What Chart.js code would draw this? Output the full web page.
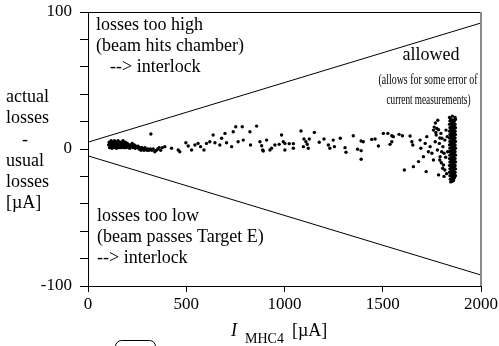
<!DOCTYPE html>
<html>
<head>
<meta charset="utf-8">
<script src="https://cdn.jsdelivr.net/npm/chart.js@4.4.1/dist/chart.umd.min.js"></script>
<style>
html,body{margin:0;padding:0;background:#fff;}
canvas{display:block;}
</style>
</head>
<body>
<canvas id="c" width="499" height="346"></canvas>
<script>
// ---- data ----
const xTickValues = [0, 500, 1000, 1500, 2000];
const yTickLabels = [-100, 0, 100];

const limitX = [0, 2000];
const upperLimitY = [5, 92];
const lowerLimitY = [-5, -92];

// measured points (I_MHC4 [µA], actual - usual losses [µA])
const pointsX = [
  105,108,110,112,115,118,120,122,125,127,130,132,135,137,140,142,145,148,150,153,
  155,158,160,163,165,168,170,173,175,178,180,183,185,188,190,193,195,198,200,205,
  208,212,215,220,225,228,232,236,240,245,250,255,260,265,270,275,280,285,290,295,
  300,305,310,318,325,332,340,348,355,362,370,378,320,
  391,425,459,467,498,510,527,544,560,573,590,603,620,637,646,671,680,697,705,731,
  739,752,764,785,790,824,827,858,875,884,889,892,909,926,934,951,973,985,994,1002,
  1002,1024,1045,1045,1084,1096,1099,1109,1116,1121,1126,1152,1177,1201,1223,1231,1248,1254,1284,1308,
  1313,1350,1372,1390,1390,1390,1401,1444,1461,1478,1503,1526,1537,1546,1546,1554,1583,1600,1610,
  1639,1648,1653,1656,1682,1690,1694,1707,1716,1721,1724,1732,1741,1750,1758,1758,1767,1772,1778,1784,
  1788,1792,1796,1801,1806,1809,1812,1816,1816,1822,1762,1768,1775,1780,1770,1784,1790,1798,1805,1812,
  1820,1825,1828,1830,1800,1790,
  1840,1847,1854,1861,1868, 1842,1849,1856,1863,1870, 1840,1847,1854,1861,1868, 1842,1849,1856,1863,1870,
  1840,1847,1854,1861,1868, 1842,1849,1856,1863,1870, 1840,1847,1854,1861,1868, 1842,1849,1856,1863,1870,
  1840,1847,1854,1861,1868, 1842,1849,1856,1863,1870, 1840,1847,1854,1861,1868, 1842,1849,1856,1863,1870,
  1840,1847,1854,1861,1868, 1842,1849,1856,1863,1870, 1840,1847,1854,1861,1868, 1842,1849,1856,1863,1870,
  1840,1847,1854,1861,1868, 1842,1849,1856,1863,1870, 1844,1851,1858,1865, 1846,1853,1860
];
const pointsY = [
  3,5,1,4,2,6,3,0.5,5,2,4,1,6,3,2,5,0.5,4,2,6,
  3,1,4,2,5,3,1,4,2,6,3,1,4,2,5,3,1,2,4,2,
  3,0.5,3,2,4,1,2,3,0.5,2,1,2,0,1,-1,1,0,-1,1,0,
  -1,0,-1,0,-1,0,-2,-1,0,1,-1,1,11,
  1.7,0.5,-0.7,-2,4.6,2.2,-0.7,2.9,4.1,1.7,-0.7,4.1,5.3,10.2,4.6,2.9,7.8,11.4,4.6,1.7,
  12.6,16.2,5.3,16.2,6.5,12.6,2.9,16.7,5.3,2.4,-0.7,-1.5,6.5,-0.7,0.5,2.9,3.4,10.2,5.3,4.1,
  -0.7,3.9,3.9,0.5,13.1,1.7,7.3,5.3,3.4,0.5,7.3,12.1,4.9,7.3,2.9,0.5,6.5,1.7,7.8,1,
  -2.4,9.7,-0.2,5.8,-1.2,-7.5,5.3,7,7.3,2.2,11.4,11.4,3.4,9.7,5.3,9,10.7,9.7,-15.3,
  9.5,5.3,2.9,-12.9,-9.2,6.5,0.5,-5.6,4.1,-16.5,9,-2,1.7,-3.1,13.8,-8,5.3,10.2,-0.7,-18.9,
  4.1,-5.6,11.4,7.8,1.7,-11.6,-3.1,6.5,-15.3,13.8,16,19,15,21,12,14,-8,-10,-14,-20,
  -6,-18,9,-2,-2,8,
  23,22,24,21,23, 20.5,21,19.5,20,21.5, 18,18.5,17.5,19,18, 15.5,16,15,16.5,15.5,
  13,13.5,12.5,14,13, 10.5,11,10,11.5,10.5, 8,8.5,7.5,9,8, 5.5,6,5,6.5,5.5,
  3,3.5,2.5,4,3, 0.5,1,0,1.5,0.5, -2,-1.5,-2.5,-1,-2, -4.5,-4,-5,-3.5,-4.5,
  -7,-6.5,-7.5,-6,-7, -9.5,-9,-10,-8.5,-9.5, -12,-11.5,-12.5,-11,-12, -14.5,-14,-15,-13.5,-14.5,
  -17,-16.5,-17.5,-16,-17, -19.5,-19,-20,-18.5,-19.5, -22,-21.5,-22.5,-21, -24,-23.5,-23
];

const yTitleLines = ["actual", "losses", "-", "usual", "losses", "[\u00B5A]"];

// ---- build ----
const scatterData = pointsX.map((x, i) => ({x: x, y: pointsY[i]}));
const upperData = limitX.map((x, i) => ({x: x, y: upperLimitY[i]}));
const lowerData = limitX.map((x, i) => ({x: x, y: lowerLimitY[i]}));

const SERIF = '"Liberation Serif", "Times New Roman", serif';

const decor = {
  id: 'decor',
  afterDraw(chart) {
    const ctx = chart.ctx;
    const a = chart.chartArea;
    ctx.save();
    // frame top and right
    ctx.strokeStyle = '#000';
    ctx.lineWidth = 1;
    ctx.beginPath();
    ctx.moveTo(a.left, a.top + 0.5);
    ctx.lineTo(a.right, a.top + 0.5);
    ctx.stroke();
    ctx.strokeStyle = '#8a8a8a';
    ctx.lineWidth = 2;
    ctx.beginPath();
    ctx.moveTo(a.right, a.top);
    ctx.lineTo(a.right, a.bottom);
    ctx.stroke();

    ctx.fillStyle = '#000';
    ctx.textBaseline = 'middle';
    ctx.textAlign = 'left';
    ctx.font = '18px ' + SERIF;
    // y-axis title
    const yl = [97, 118, 140, 161, 182, 203];
    yTitleLines.forEach((t, i) => {
      if (t === '-') { ctx.textAlign = 'center'; ctx.fillText(t, 25, yl[i]); ctx.textAlign = 'left'; }
      else ctx.fillText(t, 6, yl[i]);
    });
    // annotations
    ctx.fillText('losses too high', 96, 25);
    ctx.fillText('(beam hits chamber)', 96, 46);
    ctx.fillText('--> interlock', 110, 67);
    ctx.fillText('losses too low', 97, 216);
    ctx.fillText('(beam passes Target E)', 97, 237);
    ctx.fillText('--> interlock', 97, 258);
    ctx.textAlign = 'center';
    ctx.fillText('allowed', 431, 55);
    ctx.font = '14px ' + SERIF;
    ctx.fillText('(allows for some error of', 428, 80, 99);
    ctx.fillText('current measurements)', 428.5, 100, 84);
    // x-axis title
    ctx.textAlign = 'left';
    ctx.font = 'italic 18px ' + SERIF;
    ctx.fillText('I', 231, 331);
    ctx.font = '14px ' + SERIF;
    ctx.fillText('MHC4', 245, 339);
    ctx.font = '18px ' + SERIF;
    ctx.fillText('[\u00B5A]', 292, 331);
    // small rounded box at bottom
    ctx.strokeStyle = '#000';
    ctx.lineWidth = 1;
    ctx.beginPath();
    if (ctx.roundRect) ctx.roundRect(115.5, 340.5, 40, 30, 6);
    else ctx.rect(115.5, 340.5, 40, 30);
    ctx.stroke();
    ctx.restore();
  }
};

new Chart(document.getElementById('c'), {
  type: 'scatter',
  data: {
    datasets: [
      {data: scatterData, backgroundColor: '#000', borderColor: '#000', pointRadius: 1.7, pointBorderWidth: 0, pointHoverRadius: 1.7},
      {data: upperData, showLine: true, borderColor: '#000', borderWidth: 1, pointRadius: 0, fill: false},
      {data: lowerData, showLine: true, borderColor: '#000', borderWidth: 1, pointRadius: 0, fill: false}
    ]
  },
  options: {
    responsive: false,
    animation: false,
    events: [],
    layout: {padding: {left: 0, right: 18, top: 12, bottom: 0}},
    plugins: {legend: {display: false}, tooltip: {enabled: false}},
    scales: {
      x: {
        type: 'linear', min: 0, max: 2000,
        afterBuildTicks: s => { s.ticks = xTickValues.map(v => ({value: v})); },
        afterFit: s => { s.height = 60; s.paddingLeft = 0; s.paddingRight = 0; },
        ticks: {color: '#000', font: {family: SERIF, size: 17}, padding: 2, maxRotation: 0,
          callback: v => String(v)},
        grid: {drawOnChartArea: false, drawTicks: true, tickLength: 6, tickColor: '#000', color: '#000'},
        border: {display: true, color: '#000', width: 1}
      },
      y: {
        type: 'linear', min: -100, max: 100,
        ticks: {stepSize: 20, color: '#000', font: {family: SERIF, size: 17}, padding: 8,
          callback: v => yTickLabels.includes(v) ? String(v) : ''},
        afterFit: s => { s.width = 88; s.paddingTop = 0; s.paddingBottom = 0; },
        grid: {drawOnChartArea: false, drawTicks: true, tickLength: 8, tickColor: '#000', color: '#000'},
        border: {display: true, color: '#000', width: 1}
      }
    }
  },
  plugins: [decor]
});
</script>
</body>
</html>
